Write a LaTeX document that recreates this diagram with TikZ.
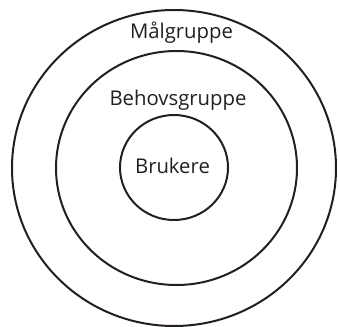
\documentclass[tikz,border=0pt]{standalone}
\usepackage{fontspec}
\setmainfont{Open Sans}
\usetikzlibrary{shapes.geometric}
\definecolor{ink}{HTML}{231F20}
\tikzset{
  ring/.style={ellipse, draw=ink, line width=2pt, inner sep=0pt, fill=none},
  lbl/.style={anchor=base, inner sep=0pt, text=ink, font=\fontsize{20.3}{23}\selectfont}
}
\begin{document}
\begin{tikzpicture}[x=1pt,y=-1pt]
\useasboundingbox (0,0) rectangle (338,327);
\node[ring, minimum width=324pt, minimum height=316pt] (outer) at (174,168) {};
\node[ring, minimum width=241pt, minimum height=234pt] (middle) at (176.5,168) {};
\node[ring, minimum width=108pt, minimum height=105pt] (inner) at (174,167.5) {};
\node[lbl] (maal) at (181.5,38) {Målgruppe};
\node[lbl] (behov) at (178,105) {Behovsgruppe};
\node[lbl] (brukere) at (172.5,173) {Brukere};
\end{tikzpicture}
\end{document}
